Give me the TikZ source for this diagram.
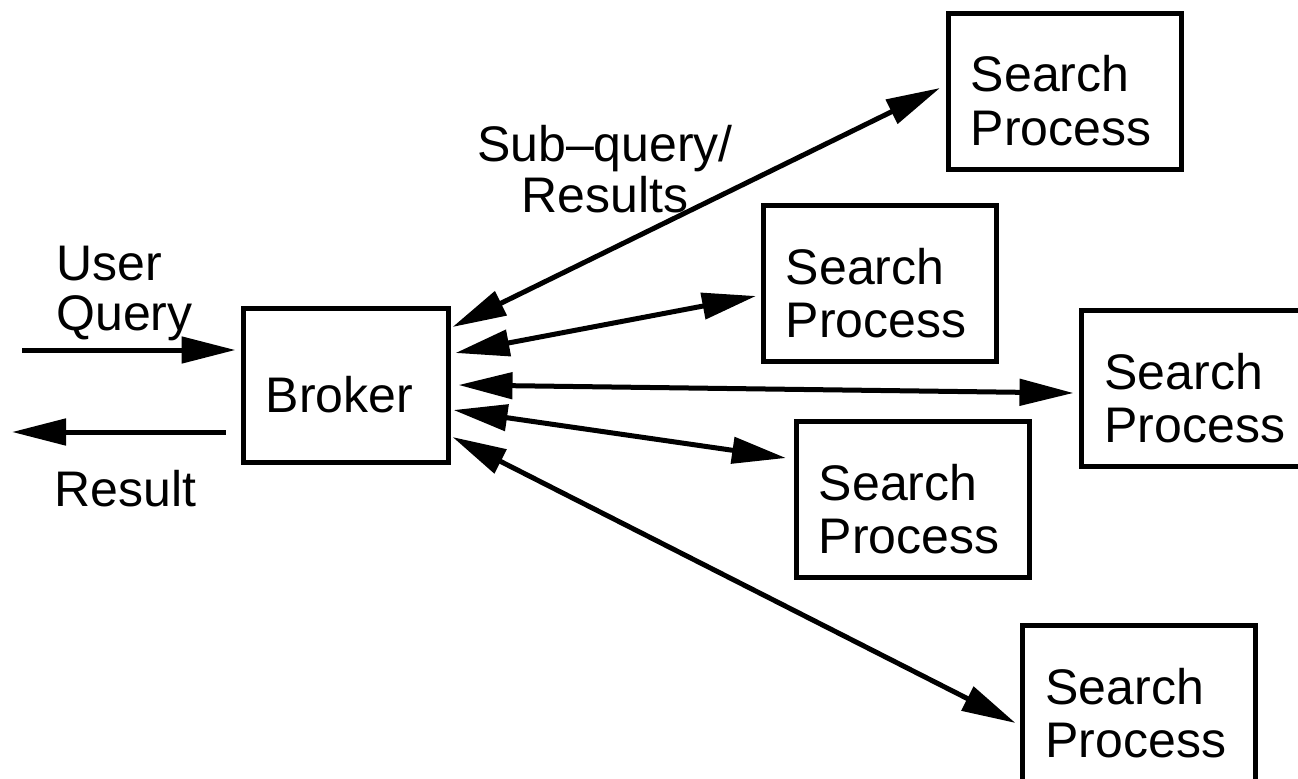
\documentclass[tikz,border=0pt]{standalone}
\usepackage{fontspec}
\setmainfont{Liberation Sans}
\usetikzlibrary{arrows.meta,calc}

% two lines of text whose baseline is that of the first line
\newcommand\twolines[3][l]{\begin{tabular}[t]{@{}#1@{}}#2\\#3\end{tabular}}

\tikzset{
  frame/.style={draw, rectangle, line width=2.5pt, inner sep=0pt},
  spbox/.style={frame, minimum width=116.5pt, minimum height=78pt},
  lbl/.style={inner sep=0pt, font=\fontsize{25}{26.75}\selectfont},
  link/.style={line width=2.5pt, {Triangle[length=27pt,width=13pt]}-{Triangle[length=27pt,width=13pt]}},
  oneway/.style={line width=2.5pt, -{Triangle[length=27pt,width=13pt]}},
}

\begin{document}
\begin{tikzpicture}[x=0.5pt,y=-0.5pt]
\useasboundingbox (0,0) rectangle (1298,778);
\clip (0,0) rectangle (1298,778);

% broker and the search processes
\node[frame, minimum width=102.5pt, minimum height=77pt] (broker) at (346,385.5) {};
\node[spbox] (s1) at (1064.5,91) {};
\node[spbox] (s2) at (879.5,283.5) {};
\node[spbox] (s3) at (1198,388.5) {};
\node[spbox] (s4) at (912.5,499.5) {};
\node[spbox] (s5) at (1139,703.5) {};

% box texts
\node[lbl, anchor=base west] (brokertext) at ($(broker.north west)+(24.5,106.5)$) {Broker};
\foreach \s in {s1,s2,s3,s4,s5}
  \node[lbl, anchor=base west] (\s text) at ($(\s.north west)+(25,81)$) {\twolines{Search}{Process}};

% user side
\node[lbl, font=\fontsize{25}{25}\selectfont, anchor=base west] (querytext) at (56,280) {\twolines{User}{Query}};
\node[lbl, anchor=base west] (resulttext) at (54,506) {Result};
\node[lbl, font=\fontsize{25}{25.5}\selectfont, anchor=base] (subtext) at (605,161) {\twolines[c]{Sub–query/}{Results}};

\coordinate (querystart) at (22,350);
\coordinate (resultend) at (12,432);
\draw[oneway, shorten >=2.75pt] (querystart) -- (querystart -| broker.west);
\draw[oneway, shorten <=7.75pt] (resultend -| broker.west) -- (resultend);

% broker <-> search process links
\draw[link] ($(broker.east)+(1.5,-58.5)$) -- ($(s1.west)+(-5.5,-3)$);
\draw[link] ($(broker.east)+(4.5,-32.5)$) -- ($(s2.west)+(-4.5,12.5)$);
\draw[link] ($(broker.east)+(7.5,-0.5)$)  -- ($(s3.west)+(-5.5,4.5)$);
\draw[link] ($(broker.east)+(2.5,24.5)$)  -- ($(s4.west)+(-7.5,-41.5)$);
\draw[link] ($(broker.east)+(1.5,51.5)$)  -- ($(s5.west)+(-4.5,19.5)$);
\end{tikzpicture}
\end{document}
